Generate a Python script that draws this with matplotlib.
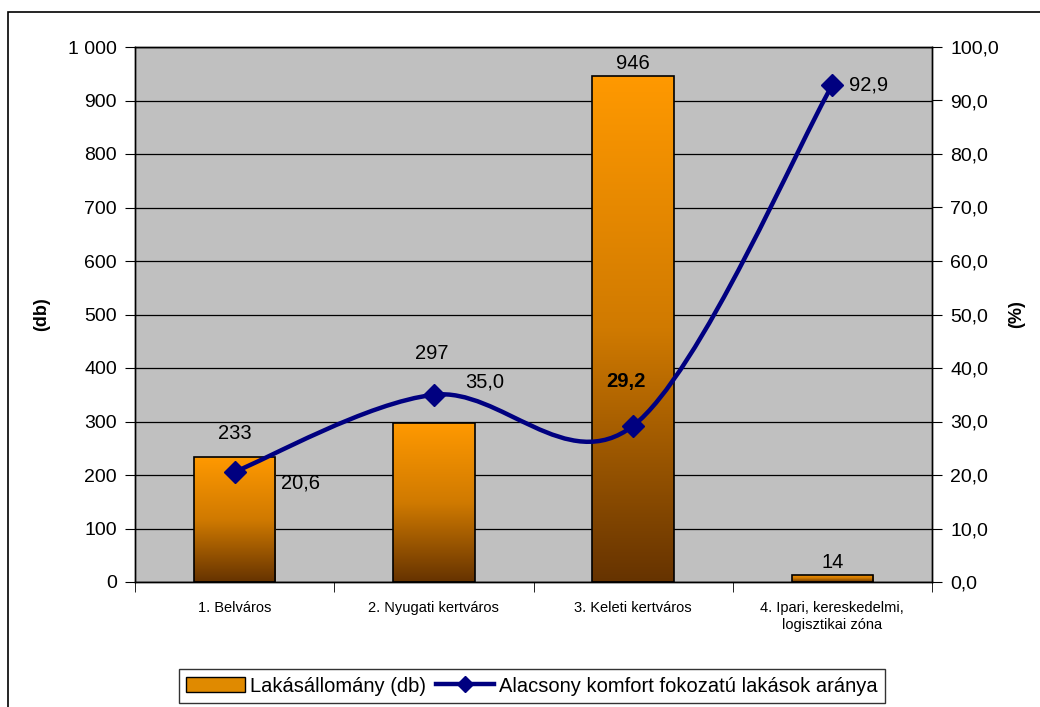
import numpy as np
import matplotlib
matplotlib.use('Agg')
import matplotlib.pyplot as plt
from matplotlib.path import Path
from matplotlib.patches import PathPatch, Rectangle, Patch
from matplotlib.lines import Line2D
from matplotlib.ticker import FuncFormatter

plt.rcParams['font.family'] = ['Liberation Sans', 'DejaVu Sans']

kategoriak = ['1. Belváros', '2. Nyugati kertváros', '3. Keleti kertváros',
              '4. Ipari, kereskedelmi,\nlogisztikai zóna']
lakas = [233, 297, 946, 14]
arany = [20.6, 35.0, 29.2, 92.9]

# label offsets in pixels (x, y)
bar_off = [(0, 24), (-2, 70), (0, 12), (0, 12)]
line_off = [(66, -11), (51, 13), (-7, 44), (36, 0)]

fig = plt.figure(figsize=(10.4, 7.07), dpi=100)
ax = fig.add_axes([135/1040, 1-582/707, (932-135)/1040, (582-47)/707])
ax2 = ax.twinx()

x = np.arange(len(kategoriak))
ax.set_facecolor('#C0C0C0')

# gradient bars
grad = np.linspace(0, 1, 256).reshape(-1, 1)
cmap = matplotlib.colors.LinearSegmentedColormap.from_list('bar', ['#FF9900', '#D07A00', '#663300'])
bars = ax.bar(x, lakas, width=0.41, facecolor='none', edgecolor='black', lw=1.2, zorder=3)
for b in bars:
    x0, y0 = b.get_x(), b.get_y()
    w, h = b.get_width(), b.get_height()
    im = ax.imshow(grad, cmap=cmap, aspect='auto', extent=(x0, x0 + w, y0, y0 + h),
                   origin='upper', zorder=2)
    im.set_clip_path(b)
ax.set_xlim(-0.5, len(kategoriak) - 0.5)
ax.set_ylim(0, 1000)
ax2.set_ylim(0, 100)

for i, v in enumerate(lakas):
    ax.annotate(str(v), (x[i], v), xytext=bar_off[i], textcoords='offset pixels',
                ha='center', va='center', fontsize=14.5, zorder=6)

ax.set_yticks(np.arange(0, 1001, 100))
ax.yaxis.set_major_formatter(FuncFormatter(lambda v, p: f'{int(v):,}'.replace(',', ' ')))
ax.grid(axis='y', color='black', lw=0.9)
ax.set_axisbelow(True)
ax.set_xticks(x)
ax.set_xticklabels(kategoriak, fontsize=10.5)
ax.tick_params(axis='x', length=0, pad=14)
ax.set_xticks(np.arange(-0.5, len(kategoriak), 1), minor=True)
ax.tick_params(axis='x', which='minor', length=7, direction='out')
ax.tick_params(axis='y', labelsize=14, length=7, direction='out', pad=6)
ax.set_ylabel('(db)', fontsize=13, fontweight='bold', labelpad=13)

# smoothed line (Excel-like bezier)
xs = np.asarray(x, float)
ys = np.asarray(arany, float)
n = len(xs)
verts = [(xs[0], ys[0])]
codes = [Path.MOVETO]
for i in range(n - 1):
    p0 = (xs[max(i - 1, 0)], ys[max(i - 1, 0)])
    p1 = (xs[i], ys[i])
    p2 = (xs[i + 1], ys[i + 1])
    p3 = (xs[min(i + 2, n - 1)], ys[min(i + 2, n - 1)])
    c1 = (p1[0] + (p2[0] - p0[0]) / 6, p1[1] + (p2[1] - p0[1]) / 6)
    c2 = (p2[0] - (p3[0] - p1[0]) / 6, p2[1] - (p3[1] - p1[1]) / 6)
    verts += [c1, c2, p2]
    codes += [Path.CURVE4] * 3
ax2.add_patch(PathPatch(Path(verts, codes), facecolor='none', edgecolor='#000080', lw=3.2, zorder=4))
ax2.plot(xs, ys, ls='none', marker='D', ms=11, color='#000080', zorder=5)

for i, v in enumerate(arany):
    ax2.annotate(f'{v:.1f}'.replace('.', ','), (x[i], v), xytext=line_off[i],
                 textcoords='offset pixels', ha='center', va='center', fontsize=14.5,
                 fontweight='bold' if i == 2 else 'normal', zorder=6)

ax2.set_yticks(np.arange(0, 101, 10))
ax2.yaxis.set_major_formatter(FuncFormatter(lambda v, p: f'{v:.1f}'.replace('.', ',')))
ax2.tick_params(axis='y', labelsize=14, length=7, direction='out', pad=6)
ax2.set_ylabel('(%)', fontsize=13, fontweight='bold', labelpad=7)
ax2.set_xlim(-0.5, len(kategoriak) - 0.5)

for a in (ax, ax2):
    for s in a.spines.values():
        s.set_color('black')
        s.set_linewidth(1.0)

# legend
h1 = Patch(facecolor='#E08A00', edgecolor='black', label='Lakásállomány (db)')
h2 = Line2D([], [], color='#000080', lw=3.2, marker='D', ms=8, label='Alacsony komfort fokozatú lakások aránya')
leg = fig.legend(handles=[h1, h2], loc='center', bbox_to_anchor=(532/1040, 1-686/707), ncol=2,
                 fontsize=14.5, frameon=True, fancybox=False, edgecolor='black',
                 handlelength=2.9, handletextpad=0.25, columnspacing=0.5, borderpad=0.35)
leg.get_frame().set_linewidth(1.0)

# outer chart border
fig.add_artist(Rectangle((8/1040, -0.01), 1.02, 1 - 12/707 + 0.01, transform=fig.transFigure,
                         facecolor='none', edgecolor='black', lw=1.2, clip_on=False))

fig.savefig('out.png', dpi=100)
